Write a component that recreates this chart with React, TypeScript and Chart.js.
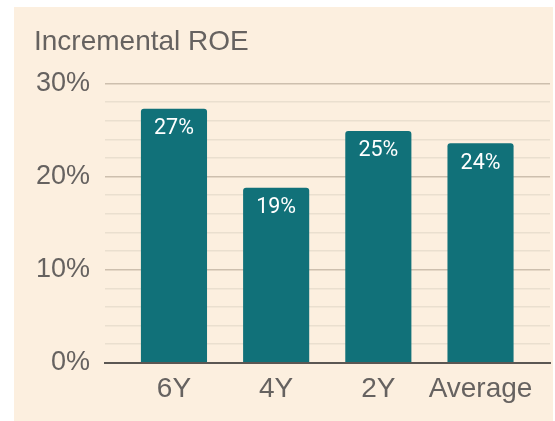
import React, { useEffect, useRef } from "react";
import { Chart, registerables } from "chart.js";

Chart.register(...registerables);

const categories = ["6Y", "4Y", "2Y", "Average"];
const roeValues = [27.3, 18.8, 24.9, 23.6];
const yTickLabels = [0, 10, 20, 30];
const titleText = "Incremental ROE";

const BG = "#fcefdf";
const BAR = "#117179";
const TEXT = "#666260";

const labelPlugin = {
  id: "barLabels",
  afterDatasetsDraw(chart: any) {
    const ctx = chart.ctx;
    const meta = chart.getDatasetMeta(0);
    ctx.save();
    ctx.fillStyle = "#ffffff";
    ctx.font = "normal 21.5px Roboto";
    ctx.textAlign = "center";
    ctx.textBaseline = "middle";
    meta.data.forEach((el: any, i: number) => {
      ctx.fillText(Math.round(roeValues[i]) + "%", el.x, el.y + 20);
    });
    ctx.restore();
  },
};

export default function App() {
  const ref = useRef<HTMLCanvasElement>(null);
  useEffect(() => {
    if (!ref.current) return;
    const chart = new Chart(ref.current, {
      type: "bar",
      data: {
        datasets: [
          {
            data: roeValues.map((v, i) => ({ x: i, y: v })),
            backgroundColor: BAR,
            borderRadius: 3,
            categoryPercentage: 1,
            barPercentage: 0.647,
          },
        ],
      },
      options: {
        responsive: false,
        animation: false,
        devicePixelRatio: 1,
        layout: { padding: { left: 20, right: 2, top: 0, bottom: 0 } },
        plugins: {
          legend: { display: false },
          tooltip: { enabled: false },
          title: {
            display: true,
            text: titleText,
            align: "start",
            color: TEXT,
            font: { family: "Liberation Sans", size: 28, weight: "normal" },
            padding: { top: 18, bottom: 25 },
          },
        },
        scales: {
          x: {
            type: "linear",
            offset: false,
            min: -0.675,
            max: 3.68,
            afterFit: (s: any) => {
              s.height = 52.3;
            },
            grid: { display: false, drawTicks: false },
            border: { display: true, color: "#5b5753", width: 2 },
            ticks: {
              stepSize: 1,
              includeBounds: false,
              autoSkip: false,
              maxRotation: 0,
              padding: 10,
              color: TEXT,
              font: { family: "Liberation Sans", size: 28 },
              callback: (v: any) =>
                Number.isInteger(v) && categories[v] !== undefined ? categories[v] : "",
            },
          },
          y: {
            min: 0,
            max: 30,
            afterFit: (s: any) => {
              s.width = 71;
            },
            border: { display: false },
            grid: {
              drawTicks: false,
              lineWidth: 1.5,
              color: (c: any) =>
                c.tick && c.tick.value % 10 === 0 ? "#cdbfae" : "#eadfcf",
            },
            ticks: {
              stepSize: 2,
              padding: 15,
              autoSkip: false,
              color: TEXT,
              font: { family: "Liberation Sans", size: 27 },
              callback: (v: any) => (yTickLabels.includes(v) ? v + "%" : ""),
            },
          },
        },
      },
      plugins: [labelPlugin],
    });
    return () => chart.destroy();
  }, []);
  return (
    <div
      style={{
        position: "absolute",
        left: 14,
        top: 7,
        width: 539,
        height: 414,
        background: BG,
      }}
    >
      <canvas ref={ref} width={538} height={408} style={{ display: "block" }} />
    </div>
  );
}
